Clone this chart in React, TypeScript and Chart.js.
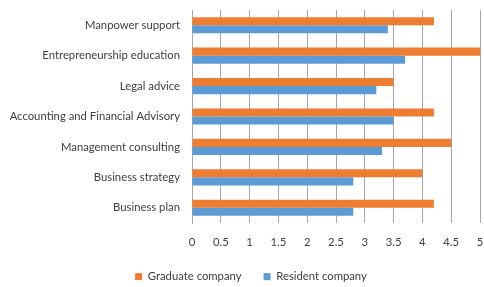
import React, { useEffect, useRef } from "react";
import { Chart, registerables } from "chart.js";

Chart.register(...registerables);

const categories = [
  "Manpower support",
  "Entrepreneurship education",
  "Legal advice",
  "Accounting and Financial Advisory",
  "Management consulting",
  "Business strategy",
  "Business plan",
];
const graduateCompany = [4.2, 5.0, 3.5, 4.2, 4.5, 4.0, 4.2];
const residentCompany = [3.4, 3.7, 3.2, 3.5, 3.3, 2.8, 2.8];
const seriesNames = ["Graduate company", "Resident company"];
const xTickMax = 5;
const xTickStep = 0.5;

const FONT = "Lato, 'Open Sans', sans-serif";
const FS = 11.3;

const legendFix = {
  id: "legendFix",
  beforeLayout(chart: any) {
    const lg = chart.legend;
    if (lg && !lg._patched) {
      const orig = lg.fit.bind(lg);
      lg.fit = function () {
        orig();
        this.height = 38;
      };
      lg._patched = true;
    }
  },
  afterLayout(chart: any) {
    const lg = chart.legend;
    if (lg) {
      lg.left += 11;
      lg.right += 11;
    }
  },
};

export default function App() {
  const ref = useRef<HTMLCanvasElement | null>(null);
  useEffect(() => {
    if (!ref.current) return;
    const chart = new Chart(ref.current, {
      type: "bar",
      data: {
        labels: categories,
        datasets: [
          {
            label: seriesNames[0],
            data: graduateCompany,
            backgroundColor: "#ED7D31",
            barPercentage: 1,
            categoryPercentage: 0.53,
          },
          {
            label: seriesNames[1],
            data: residentCompany,
            backgroundColor: "#5B9BD5",
            barPercentage: 1,
            categoryPercentage: 0.53,
          },
        ],
      },
      plugins: [legendFix],
      options: {
        indexAxis: "y",
        animation: false,
        responsive: false,
        maintainAspectRatio: false,
        layout: { padding: { top: 10, right: 4, left: 0, bottom: 0 } },
        plugins: {
          legend: {
            position: "bottom",
            labels: {
              boxWidth: 7,
              boxHeight: 7,
              color: "#404040",
              font: { family: FONT, size: FS },
              padding: 22,
            },
          },
          tooltip: { enabled: false },
        },
        scales: {
          x: {
            min: 0,
            max: xTickMax,
            ticks: {
              stepSize: xTickStep,
              color: "#404040",
              font: { family: FONT, size: FS },
              padding: 13,
              callback: (v: any) => String(Number(v)),
            },
            grid: { color: "#a6a6a6", drawTicks: false, lineWidth: 1 },
            border: { display: false },
            afterFit: (scale: any) => {
              scale.height = 26;
              scale.paddingLeft = 0;
              scale.paddingRight = 0;
            },
          },
          y: {
            ticks: {
              color: "#404040",
              font: { family: FONT, size: FS },
              padding: 12,
            },
            grid: { display: false, drawTicks: false },
            border: { display: true, color: "#a6a6a6" },
            afterFit: (scale: any) => {
              scale.width = 192;
              scale.paddingTop = 0;
              scale.paddingBottom = 0;
            },
          },
        },
      },
    });
    return () => chart.destroy();
  }, []);
  return (
    <div style={{ position: "absolute", left: 0, top: 0, width: 484, height: 287, background: "#fff" }}>
      <canvas ref={ref} width={484} height={287} style={{ width: 484, height: 287 }} />
    </div>
  );
}
